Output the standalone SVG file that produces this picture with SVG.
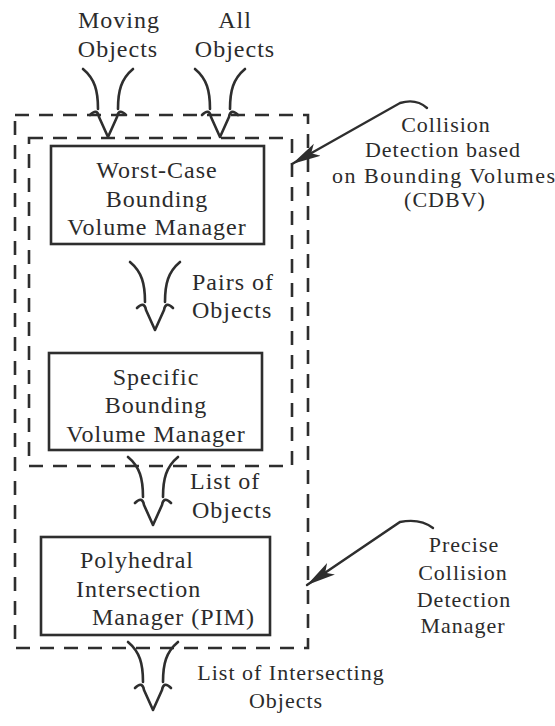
<svg xmlns="http://www.w3.org/2000/svg" width="555" height="726" viewBox="0 0 555 726">
<defs>
<style>
.bg{fill:#ffffff}
.box{fill:none;stroke:#2e2e2e;stroke-width:2.6}
.dash{fill:none;stroke:#2e2e2e;stroke-width:2.6;stroke-dasharray:14 10}
.flow{fill:none;stroke:#2e2e2e;stroke-width:2.6;stroke-linecap:round;stroke-linejoin:round}
.ptr{fill:none;stroke:#2e2e2e;stroke-width:2.4;stroke-linecap:round}
text{font-family:"Liberation Serif","DejaVu Serif",serif;fill:#2b2b2b;font-size:24px;letter-spacing:1px}
.mid{text-anchor:middle}
.side{font-size:22px;letter-spacing:1px}
</style>
<path id="vArrow" class="flow" d="M-25,-68 C-13,-58 -10,-46 -10,-28 M-18,-22 C-13,-27 -10,-26 -9,-20 L0,0 M25,-68 C13,-58 10,-46 10,-28 M18,-22 C13,-27 10,-26 9,-20 L0,0"/>
<marker id="head" markerUnits="userSpaceOnUse" markerWidth="32" markerHeight="20" refX="29" refY="9" orient="auto">
<path d="M0,2 L29,9 L0,16 L7,9 z" fill="#2e2e2e"/>
</marker>
</defs>
<rect class="bg" x="0" y="0" width="555" height="726"/>

<g id="cdbv-region">
<rect class="dash" x="29" y="138" width="263" height="328"/>
</g>
<g id="precise-region">
<rect class="dash" x="15" y="115" width="293" height="533"/>
</g>

<g id="worst-case">
<rect class="box" x="51" y="146" width="213" height="98"/>
<text class="mid" x="157" y="178">Worst-Case</text>
<text class="mid" x="157" y="207">Bounding</text>
<text class="mid" x="157" y="235">Volume Manager</text>
</g>

<g id="specific">
<rect class="box" x="49" y="353" width="213" height="97"/>
<text class="mid" x="156" y="385">Specific</text>
<text class="mid" x="156" y="413">Bounding</text>
<text class="mid" x="156" y="442">Volume Manager</text>
</g>

<g id="pim">
<rect class="box" x="41" y="537" width="229" height="98"/>
<text x="80" y="568">Polyhedral</text>
<text x="76" y="597">Intersection</text>
<text x="92" y="625">Manager (PIM)</text>
</g>

<g id="input-moving">
<text class="mid" x="119" y="28">Moving</text>
<text class="mid" x="118" y="57">Objects</text>
</g>
<g id="input-all">
<text class="mid" x="235" y="28">All</text>
<text class="mid" x="235" y="57">Objects</text>
</g>

<g id="label-cdbv">
<text class="mid side" x="446" y="132">Collision</text>
<text class="mid side" x="443" y="157">Detection based</text>
<text class="mid side" x="444" y="183" textLength="224">on Bounding Volumes</text>
<text class="mid side" x="445" y="207">(CDBV)</text>
</g>

<g id="label-precise">
<text class="mid side" x="464" y="552">Precise</text>
<text class="mid side" x="463" y="580">Collision</text>
<text class="mid side" x="464" y="607">Detection</text>
<text class="mid side" x="463" y="633">Manager</text>
</g>

<g id="connectors">
<use href="#vArrow" x="108" y="137"/>
<use href="#vArrow" x="220" y="137"/>
<use href="#vArrow" x="155" y="330"/>
<use href="#vArrow" x="153" y="525"/>
<use href="#vArrow" x="153" y="710"/>
<path class="ptr" d="M427,108 Q416,98 400,103 L292,164" marker-end="url(#head)"/>
<path class="ptr" d="M433,528 Q420,518 400,522 L307,585" marker-end="url(#head)"/>
<text x="192" y="290">Pairs of</text>
<text x="192" y="318">Objects</text>
<text x="190" y="489">List of</text>
<text x="192" y="518">Objects</text>
<text class="mid side" x="291" y="680">List of Intersecting</text>
<text class="mid side" x="286" y="708">Objects</text>
</g>
</svg>
